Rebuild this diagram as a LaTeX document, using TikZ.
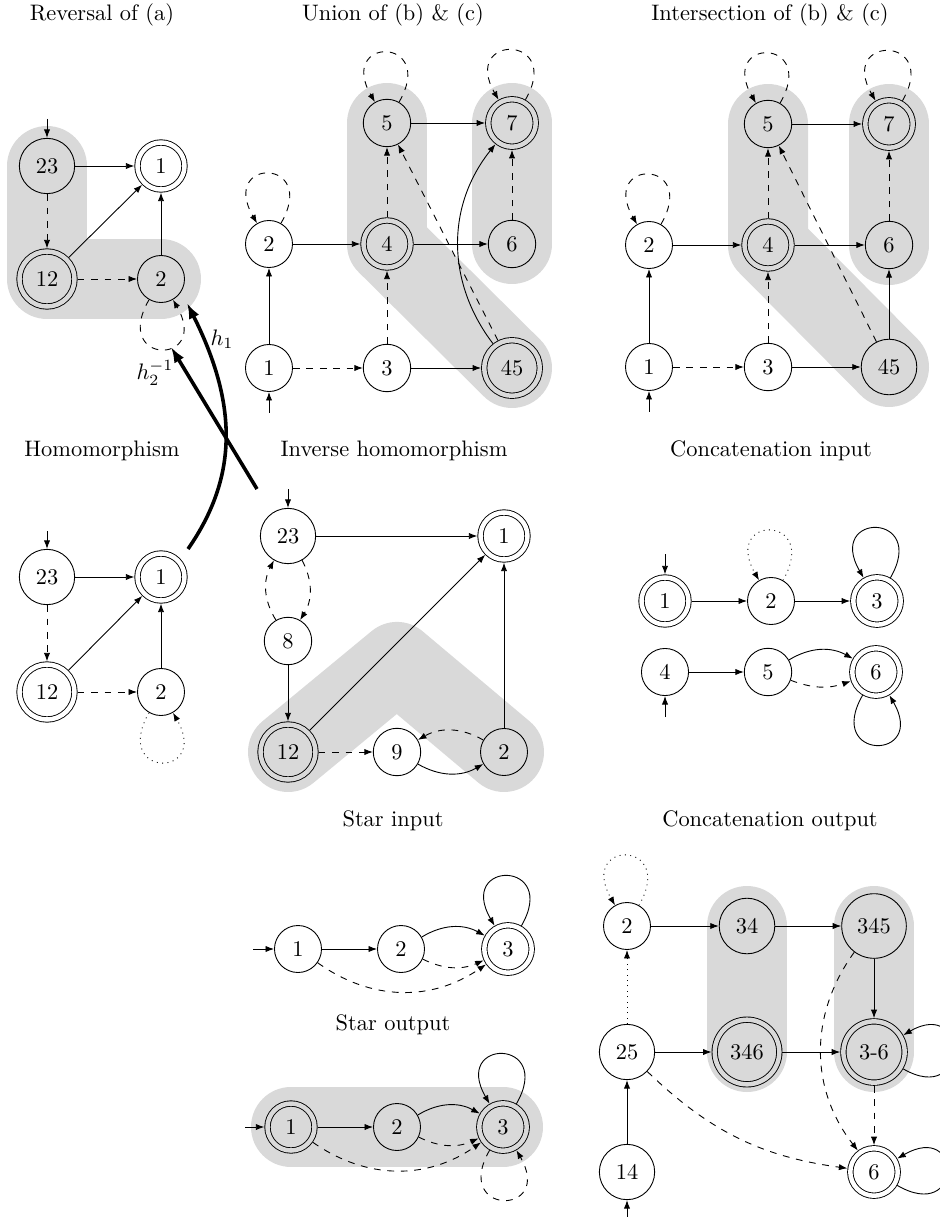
\documentclass[tikz,border=0pt]{standalone}
\usetikzlibrary{arrows.meta}
\pgfdeclarelayer{bg}
\pgfsetlayers{bg,main}
\begin{document}
\begin{tikzpicture}[x=0.4464pt,y=-0.4464pt,
  >={Latex[length=3.8pt,width=2.8pt]},
  st/.style={circle,draw,inner sep=4.5pt,outer sep=0.2pt},
  acc/.style={st,double,double distance=2pt,outer sep=1.4pt},
  accg/.style={acc,double=gray!30},
  blob/.style={line width=35.7pt,gray!30,line cap=round,line join=round},
  ttl/.style={inner sep=0pt},
  ed/.style={->},
  da/.style={->,dashed},
  dt/.style={->,dotted},
  lpa/.style={out=60,in=120,looseness=1,min distance=34pt},
  lpb/.style={out=240,in=300,looseness=1,min distance=34pt},
  lpr/.style={out=-30,in=30,looseness=1,min distance=34pt},
  hom/.style={->,>={Latex[length=7pt,width=5pt]},line width=1.6pt},
]
\useasboundingbox (0,0) rectangle (940,1217);

% ---------- titles ----------
\node[ttl] (t1) at (102,15) {Reversal of (a)};
\node[ttl] (t2) at (393,15) {Union of (b) \& (c)};
\node[ttl] (t3) at (770,15) {Intersection of (b) \& (c)};
\node[ttl] (t4) at (102,451) {Homomorphism};
\node[ttl] (t5) at (394,451) {Inverse homomorphism};
\node[ttl] (t6) at (771,451) {Concatenation input};
\node[ttl] (t7) at (393,821) {Star input};
\node[ttl] (t8) at (393,1025) {Star output};
\node[ttl] (t9) at (770,821) {Concatenation output};

% ---------- Reversal of (a) ----------
\node[st] (rA) at (47,166) {23};
\node[acc] (rB) at (161,166) {1};
\node[accg] (rC) at (47,279) {12};
\node[st] (rD) at (161,279) {2};
\coordinate (rI) at (47,119);
\begin{pgfonlayer}{bg}
\draw[blob] (rA.center) -- (rC.center) -- (rD.center);
\end{pgfonlayer}
\draw[ed] (rI) -- (rA);
\draw[ed] (rA) -- (rB);
\draw[da] (rA) -- (rC);
\draw[ed] (rC) -- (rB);
\draw[ed] (rD) -- (rB);
\draw[da] (rC) -- (rD);
\draw[da] (rD) to[lpb] (rD);

% ---------- Homomorphism ----------
\node[st] (hA) at (47,577) {23};
\node[acc] (hB) at (161,577) {1};
\node[acc] (hC) at (47,692) {12};
\node[st] (hD) at (161,692) {2};
\coordinate (hI) at (47,531);
\draw[ed] (hI) -- (hA);
\draw[ed] (hA) -- (hB);
\draw[da] (hA) -- (hC);
\draw[ed] (hC) -- (hB);
\draw[ed] (hD) -- (hB);
\draw[da] (hC) -- (hD);
\draw[dt] (hD) to[lpb] (hD);

% ---------- h arrows ----------
\coordinate (h1s) at (188,549);
\coordinate (h1e) at (187,303);
\coordinate (h2s) at (257,489);
\coordinate (h2e) at (171,347);
\draw[hom] (h1s) .. controls (238,477) and (238,405) .. (h1e);
\draw[hom] (h2s) -- (h2e);
\node (lh1) at (222,339) {$h_1$};
\node (lh2) at (155,373) {$h_2^{-1}$};

% ---------- Union ----------
\node[st] (u5) at (387,123) {5};
\node[accg] (u7) at (512,123) {7};
\node[st] (u2) at (269,244) {2};
\node[accg] (u4) at (387,244) {4};
\node[st] (u6) at (512,244) {6};
\node[st] (u1) at (269,368) {1};
\node[st] (u3) at (387,368) {3};
\node[accg] (u45) at (512,368) {45};
\coordinate (uI) at (269,413);
\begin{pgfonlayer}{bg}
\draw[blob] (u5.center) -- (u4.center) -- (u45.center);
\draw[blob] (u7.center) -- (u6.center);
\end{pgfonlayer}
\draw[ed] (uI) -- (u1);
\draw[ed] (u1) -- (u2);
\draw[da] (u1) -- (u3);
\draw[ed] (u2) -- (u4);
\draw[da] (u3) -- (u4);
\draw[ed] (u3) -- (u45);
\draw[da] (u4) -- (u5);
\draw[ed] (u4) -- (u6);
\draw[ed] (u5) -- (u7);
\draw[da] (u6) -- (u7);
\draw[da] (u45) -- (u5);
\draw[ed] (u45) to[bend left=38] (u7);
\draw[da] (u5) to[lpa] (u5);
\draw[da] (u7) to[lpa] (u7);
\draw[da] (u2) to[lpa] (u2);

% ---------- Intersection ----------
\node[st] (i5) at (768,124) {5};
\node[accg] (i7) at (889,124) {7};
\node[st] (i2) at (649,245) {2};
\node[accg] (i4) at (768,245) {4};
\node[st] (i6) at (889,245) {6};
\node[st] (i1) at (649,367) {1};
\node[st] (i3) at (768,367) {3};
\node[st] (i45) at (889,367) {45};
\coordinate (iI) at (649,412);
\begin{pgfonlayer}{bg}
\draw[blob] (i5.center) -- (i4.center) -- (i45.center);
\draw[blob] (i7.center) -- (i6.center);
\end{pgfonlayer}
\draw[ed] (iI) -- (i1);
\draw[ed] (i1) -- (i2);
\draw[da] (i1) -- (i3);
\draw[ed] (i2) -- (i4);
\draw[da] (i3) -- (i4);
\draw[ed] (i3) -- (i45);
\draw[da] (i4) -- (i5);
\draw[ed] (i4) -- (i6);
\draw[ed] (i5) -- (i7);
\draw[da] (i6) -- (i7);
\draw[da] (i45) -- (i5);
\draw[ed] (i45) -- (i6);
\draw[da] (i5) to[lpa] (i5);
\draw[da] (i7) to[lpa] (i7);
\draw[da] (i2) to[lpa] (i2);

% ---------- Inverse homomorphism ----------
\node[st] (v23) at (288,536) {23};
\node[acc] (v1) at (504,536) {1};
\node[st] (v8) at (288,641) {8};
\node[accg] (v12) at (288,752) {12};
\node[st] (v9) at (397,752) {9};
\node[st] (v2) at (504,752) {2};
\coordinate (vI) at (288,489);
\coordinate (vApex) at (397,662);
\begin{pgfonlayer}{bg}
\draw[blob] (v12.center) -- (vApex) -- (v2.center);
\end{pgfonlayer}
\draw[ed] (vI) -- (v23);
\draw[ed] (v23) -- (v1);
\draw[da] (v23) to[bend left=30] (v8);
\draw[da] (v8) to[bend left=30] (v23);
\draw[ed] (v8) -- (v12);
\draw[ed] (v12) -- (v1);
\draw[ed] (v2) -- (v1);
\draw[da] (v12) -- (v9);
\draw[ed] (v9) to[bend right=30] (v2);
\draw[da] (v2) to[bend right=30] (v9);

% ---------- Concatenation input ----------
\node[acc] (c1) at (665,601) {1};
\node[st] (c2) at (771,601) {2};
\node[acc] (c3) at (877,601) {3};
\node[st] (c4) at (665,672) {4};
\node[st] (c5) at (768,672) {5};
\node[acc] (c6) at (876,672) {6};
\coordinate (c1I) at (665,554);
\coordinate (c4I) at (665,717);
\draw[ed] (c1I) -- (c1);
\draw[ed] (c4I) -- (c4);
\draw[ed] (c1) -- (c2);
\draw[ed] (c2) -- (c3);
\draw[dt] (c2) to[lpa] (c2);
\draw[ed] (c3) to[lpa] (c3);
\draw[ed] (c4) -- (c5);
\draw[ed] (c5) to[bend left=30] (c6);
\draw[da] (c5) to[bend right=20] (c6);
\draw[ed] (c6) to[lpb] (c6);

% ---------- Star input ----------
\node[st] (s1) at (298,949) {1};
\node[st] (s2) at (401,949) {2};
\node[acc] (s3) at (508,949) {3};
\coordinate (sI) at (253,949);
\draw[ed] (sI) -- (s1);
\draw[ed] (s1) -- (s2);
\draw[ed] (s2) to[bend left=30] (s3);
\draw[da] (s2) to[bend right=25] (s3);
\draw[da] (s1) to[bend right=35] (s3);
\draw[ed] (s3) to[lpa] (s3);

% ---------- Star output ----------
\node[accg] (o1) at (291,1127) {1};
\node[st] (o2) at (397,1127) {2};
\node[accg] (o3) at (503,1127) {3};
\coordinate (oI) at (245,1127);
\begin{pgfonlayer}{bg}
\draw[blob] (o1.center) -- (o3.center);
\end{pgfonlayer}
\draw[ed] (oI) -- (o1);
\draw[ed] (o1) -- (o2);
\draw[ed] (o2) to[bend left=30] (o3);
\draw[da] (o2) to[bend right=25] (o3);
\draw[da] (o1) to[bend right=35] (o3);
\draw[ed] (o3) to[lpa] (o3);
\draw[da] (o3) to[lpb] (o3);

% ---------- Concatenation output ----------
\node[st] (k2) at (627,926) {2};
\node[st] (k34) at (747,926) {34};
\node[st] (k345) at (874,926) {345};
\node[st] (k25) at (627,1052) {25};
\node[accg] (k346) at (747,1052) {346};
\node[accg] (k36) at (874,1052) {3-6};
\node[st] (k14) at (627,1172) {14};
\node[acc] (k6) at (874,1172) {6};
\coordinate (kI) at (627,1222);
\begin{pgfonlayer}{bg}
\draw[blob] (k34.center) -- (k346.center);
\draw[blob] (k345.center) -- (k36.center);
\end{pgfonlayer}
\draw[ed] (kI) -- (k14);
\draw[ed] (k14) -- (k25);
\draw[dt] (k25) -- (k2);
\draw[ed] (k2) -- (k34);
\draw[ed] (k34) -- (k345);
\draw[ed] (k345) -- (k36);
\draw[ed] (k25) -- (k346);
\draw[ed] (k346) -- (k36);
\draw[da] (k25) to[bend right=18] (k6);
\draw[da] (k345) to[bend right=37] (k6);
\draw[da] (k36) -- (k6);
\draw[dt] (k2) to[lpa] (k2);
\draw[ed] (k36) to[lpr] (k36);
\draw[ed] (k6) to[lpr] (k6);
\end{tikzpicture}
\end{document}
